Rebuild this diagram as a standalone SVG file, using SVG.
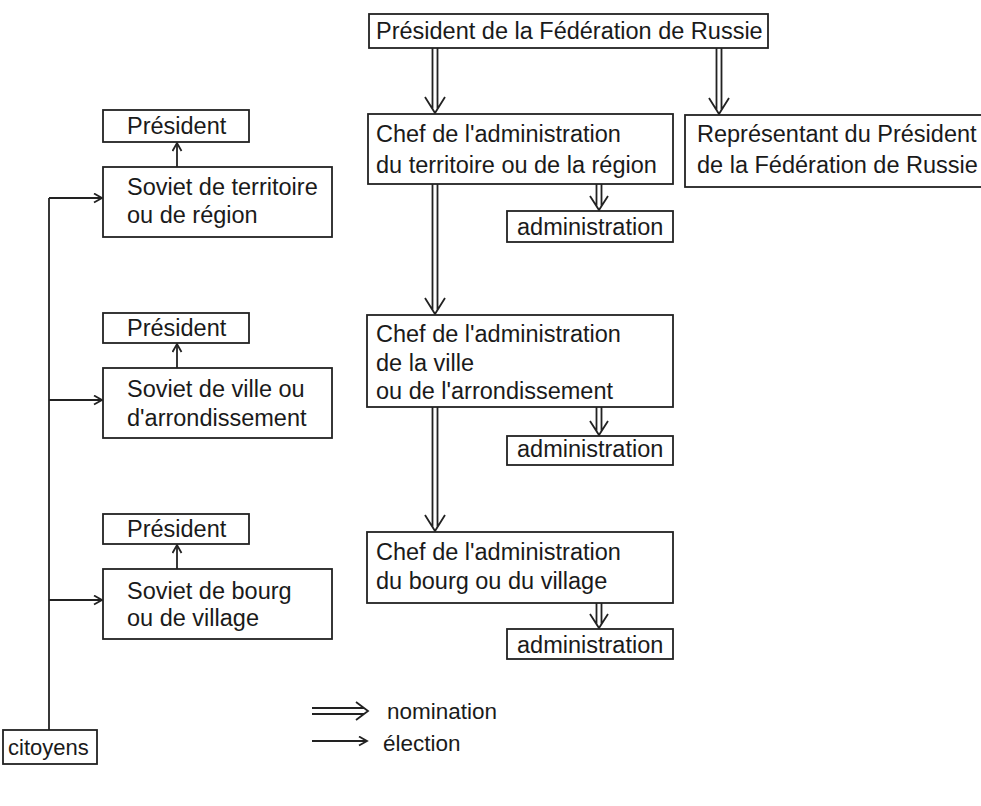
<svg xmlns="http://www.w3.org/2000/svg" width="981" height="806" viewBox="0 0 981 806">
<defs>
<marker id="vh" markerUnits="userSpaceOnUse" markerWidth="12" markerHeight="12" refX="9" refY="5" orient="auto">
<path d="M1,0.5 L9,5 L1,9.5" fill="none" stroke="#222" stroke-width="1.8"/>
</marker>
</defs>
<style>
rect{fill:#fff;stroke:#222;stroke-width:1.8}
text{font-family:"Liberation Sans",Arial,sans-serif;font-size:23.5px;fill:#1a1a1a}
.l{fill:none;stroke:#222;stroke-width:1.8}
.e{fill:none;stroke:#222;stroke-width:1.8;marker-end:url(#vh)}
.sm{font-size:22px}
.lg{font-size:22.5px}
</style>
<rect x="0" y="0" width="981" height="806" style="fill:#fff;stroke:none"/>
<g id="connectors">
<path class="l" d="M432.5,48 V109 M437.5,48 V109 M425,97 L435,113 L445,97"/>
<path class="l" d="M716.5,48 V110 M721.5,48 V110 M709,98 L719,114 L729,98"/>
<path class="l" d="M432.5,184 V310 M437.5,184 V310 M425,298 L435,314 L445,298"/>
<path class="l" d="M432.5,407 V527 M437.5,407 V527 M425,515 L435,531 L445,515"/>
<path class="l" d="M596.5,184 V206 M601.5,184 V206 M590,196 L599,210 L608,196"/>
<path class="l" d="M596.5,407 V431 M601.5,407 V431 M590,421 L599,435 L608,421"/>
<path class="l" d="M596.5,603 V624 M601.5,603 V624 M590,614 L599,628 L608,614"/>
<path class="l" d="M49,730 V198"/>
<path class="e" d="M49,198 H102"/>
<path class="e" d="M49,400 H102"/>
<path class="e" d="M49,600 H102"/>
<path class="e" d="M177,167 V143"/>
<path class="e" d="M177,368 V344"/>
<path class="e" d="M177,569 V545"/>
</g>
<g id="pres-fed"><rect x="369" y="14" width="399" height="34"/><text x="376" y="39">Président de la Fédération de Russie</text></g>
<g id="chef1"><rect x="368" y="114" width="305" height="70"/><text x="376" y="142">Chef de l'administration</text><text x="376" y="173">du territoire ou de la région</text></g>
<g id="representant"><rect x="685" y="115" width="310" height="72"/><text x="697" y="142">Représentant du Président</text><text x="697" y="173">de la Fédération de Russie</text></g>
<g id="admin1"><rect x="507" y="211" width="166" height="31"/><text x="517" y="235">administration</text></g>
<g id="chef2"><rect x="367" y="315" width="306" height="92"/><text x="376" y="342">Chef de l'administration</text><text x="376" y="371">de la ville</text><text x="376" y="399">ou de l'arrondissement</text></g>
<g id="admin2"><rect x="507" y="436" width="166" height="29"/><text x="517" y="457">administration</text></g>
<g id="chef3"><rect x="367" y="532" width="306" height="71"/><text x="376" y="560">Chef de l'administration</text><text x="376" y="589">du bourg ou du village</text></g>
<g id="admin3"><rect x="507" y="629" width="166" height="30"/><text x="517" y="653">administration</text></g>
<g id="pres1"><rect x="103" y="110" width="146" height="32"/><text x="127" y="134">Président</text></g>
<g id="soviet1"><rect x="103" y="167" width="229" height="70"/><text x="127" y="195">Soviet de territoire</text><text x="127" y="223">ou de région</text></g>
<g id="pres2"><rect x="103" y="313" width="146" height="30"/><text x="127" y="336">Président</text></g>
<g id="soviet2"><rect x="103" y="368" width="229" height="70"/><text x="127" y="397">Soviet de ville ou</text><text x="127" y="426">d'arrondissement</text></g>
<g id="pres3"><rect x="103" y="514" width="146" height="30"/><text x="127" y="537">Président</text></g>
<g id="soviet3"><rect x="103" y="569" width="229" height="70"/><text x="127" y="599">Soviet de bourg</text><text x="127" y="626">ou de village</text></g>
<g id="citoyens"><rect x="3" y="730" width="94" height="34"/><text class="sm" x="8" y="755">citoyens</text></g>
<g id="legend">
<path class="l" d="M312,708 H364 M312,714 H364 M356,702 L368,711 L356,720"/>
<text class="lg" x="387" y="719">nomination</text>
<path class="e" d="M312,741 H367"/>
<text class="lg" x="383" y="751">élection</text>
</g>
</svg>
